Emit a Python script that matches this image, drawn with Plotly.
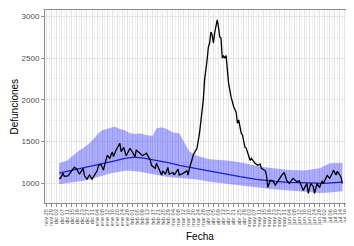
import plotly.graph_objects as go

# Observed daily deaths (black line)
OBS_DATES = [
    "2019-12-05", "2019-12-06", "2019-12-08", "2019-12-09", "2019-12-12", "2019-12-15",
    "2019-12-17", "2019-12-19", "2019-12-21", "2019-12-24", "2019-12-25", "2019-12-27",
    "2019-12-29", "2019-12-31", "2020-01-04", "2020-01-05", "2020-01-07", "2020-01-09",
    "2020-01-11", "2020-01-12", "2020-01-14", "2020-01-16", "2020-01-17", "2020-01-19",
    "2020-01-22", "2020-01-23", "2020-01-25", "2020-01-27", "2020-01-30", "2020-02-01",
    "2020-02-03", "2020-02-04", "2020-02-07", "2020-02-09", "2020-02-12", "2020-02-15",
    "2020-02-16", "2020-02-19", "2020-02-20", "2020-02-23", "2020-02-24", "2020-02-25",
    "2020-02-27", "2020-02-29", "2020-03-01", "2020-03-04", "2020-03-05", "2020-03-08",
    "2020-03-09", "2020-03-12", "2020-03-15", "2020-03-16", "2020-03-17", "2020-03-19",
    "2020-03-20", "2020-03-23", "2020-03-25", "2020-03-28", "2020-03-29", "2020-03-31",
    "2020-04-01", "2020-04-02", "2020-04-03", "2020-04-04", "2020-04-05", "2020-04-06",
    "2020-04-08", "2020-04-09", "2020-04-10", "2020-04-11", "2020-04-12", "2020-04-13",
    "2020-04-14", "2020-04-15", "2020-04-16", "2020-04-17", "2020-04-19", "2020-04-20",
    "2020-04-21", "2020-04-23", "2020-04-24", "2020-04-25", "2020-04-27", "2020-04-28",
    "2020-04-30", "2020-05-01", "2020-05-04", "2020-05-05", "2020-05-08", "2020-05-10",
    "2020-05-12", "2020-05-13", "2020-05-16", "2020-05-17", "2020-05-18", "2020-05-20",
    "2020-05-22", "2020-05-24", "2020-05-27", "2020-05-29", "2020-05-31", "2020-06-02",
    "2020-06-04", "2020-06-07", "2020-06-10", "2020-06-12", "2020-06-15", "2020-06-18",
    "2020-06-19", "2020-06-21", "2020-06-23", "2020-06-24", "2020-06-26", "2020-06-28",
    "2020-06-30", "2020-07-01", "2020-07-04", "2020-07-06", "2020-07-08", "2020-07-09",
    "2020-07-11", "2020-07-12", "2020-07-14", "2020-07-15", "2020-07-16",
]
OBS_VALUES = [
    1060, 1060, 1120, 1085, 1090, 1150,
    1195, 1170, 1110, 1180, 1090, 1050,
    1100, 1050, 1150, 1210, 1230, 1160,
    1276, 1336, 1300, 1376, 1320, 1400,
    1480, 1380, 1430, 1330, 1420, 1360,
    1320, 1400, 1350, 1330, 1360, 1280,
    1216, 1180, 1240, 1120, 1100, 1150,
    1110, 1190, 1110, 1130, 1100, 1170,
    1100, 1120, 1150, 1100, 1180, 1280,
    1340, 1420, 1600, 2000, 2236, 2476,
    2632, 2680, 2812, 2776, 2680, 2800,
    2956, 2872, 2752, 2740, 2500, 2524,
    2500, 2530, 2356, 2200, 2032, 1960,
    1920, 1850, 1720, 1760, 1600, 1580,
    1432, 1420, 1276, 1300, 1240, 1216,
    1230, 1180, 1150, 1096, 952, 1036,
    1030, 980, 1060, 1096, 1130, 1036,
    1000, 1060, 1020, 1030, 916, 1000,
    880, 1000, 960, 880, 1000, 950,
    1030, 1000, 1096, 1060, 1120, 1156,
    1100, 1144, 1100, 1070, 1000,
]

# Expected deaths (blue line)
EXP_DATES = [
    "2019-12-05", "2019-12-13", "2019-12-25", "2020-01-06", "2020-01-18", "2020-01-26",
    "2020-02-03", "2020-02-11", "2020-02-20", "2020-03-01", "2020-03-09", "2020-03-23",
    "2020-04-02", "2020-04-12", "2020-04-26", "2020-05-09", "2020-05-24", "2020-06-04",
    "2020-06-20", "2020-07-01", "2020-07-10", "2020-07-16",
]
EXP_VALUES = [
    1124, 1150, 1185, 1225, 1270, 1300,
    1315, 1300, 1276, 1245, 1216, 1180,
    1150, 1120, 1080, 1048, 1025, 1012,
    1005, 1000, 1010, 1015,
]

# Confidence band
BAND_DATES = [
    "2019-12-05", "2019-12-11", "2019-12-21", "2019-12-24", "2019-12-29", "2020-01-02",
    "2020-01-06", "2020-01-08", "2020-01-15", "2020-01-18", "2020-01-22", "2020-01-26",
    "2020-01-30", "2020-02-04", "2020-02-07", "2020-02-12", "2020-02-17", "2020-02-20",
    "2020-02-24", "2020-02-28", "2020-03-04", "2020-03-09", "2020-03-12", "2020-03-15",
    "2020-03-17", "2020-03-23", "2020-04-02", "2020-04-18", "2020-04-30", "2020-05-12",
    "2020-05-24", "2020-06-04", "2020-06-16", "2020-06-28", "2020-07-06", "2020-07-14",
    "2020-07-16",
]
BAND_UPPER = [
    1240, 1270, 1396, 1420, 1480, 1552,
    1612, 1636, 1672, 1680, 1650, 1636,
    1600, 1590, 1600, 1576, 1570, 1660,
    1672, 1650, 1610, 1600, 1516, 1436,
    1380, 1330, 1290, 1270, 1240, 1200,
    1180, 1160, 1155, 1180, 1240, 1250,
    1245,
]
BAND_LOWER = [
    990, 1000, 1020, 1030, 1045, 1060,
    1080, 1090, 1120, 1130, 1145, 1150,
    1150, 1145, 1140, 1125, 1110, 1100,
    1090, 1080, 1070, 1065, 1060, 1060,
    1055, 1045, 1020, 990, 965, 945,
    928, 916, 900, 885, 890, 900,
    905,
]

TICK_DATES = [
    "2019-11-25", "2019-11-29", "2019-12-03", "2019-12-07", "2019-12-11", "2019-12-15",
    "2019-12-19", "2019-12-23", "2019-12-27", "2019-12-31", "2020-01-04", "2020-01-08",
    "2020-01-12", "2020-01-16", "2020-01-20", "2020-01-24", "2020-01-28", "2020-02-01",
    "2020-02-05", "2020-02-09", "2020-02-13", "2020-02-17", "2020-02-21", "2020-02-25",
    "2020-02-29", "2020-03-04", "2020-03-08", "2020-03-12", "2020-03-16", "2020-03-20",
    "2020-03-24", "2020-03-28", "2020-04-01", "2020-04-05", "2020-04-09", "2020-04-13",
    "2020-04-17", "2020-04-21", "2020-04-25", "2020-04-29", "2020-05-03", "2020-05-07",
    "2020-05-11", "2020-05-15", "2020-05-19", "2020-05-23", "2020-05-27", "2020-05-31",
    "2020-06-04", "2020-06-08", "2020-06-12", "2020-06-16", "2020-06-20", "2020-06-24",
    "2020-06-28", "2020-07-02", "2020-07-06", "2020-07-10", "2020-07-14", "2020-07-18",
]
TICK_LABELS = [
    "nov 25", "nov 29", "dic 03", "dic 07", "dic 11", "dic 15",
    "dic 19", "dic 23", "dic 27", "dic 31", "ene 04", "ene 08",
    "ene 12", "ene 16", "ene 20", "ene 24", "ene 28", "feb 01",
    "feb 05", "feb 09", "feb 13", "feb 17", "feb 21", "feb 25",
    "feb 29", "mar 04", "mar 08", "mar 12", "mar 16", "mar 20",
    "mar 24", "mar 28", "abr 01", "abr 05", "abr 09", "abr 13",
    "abr 17", "abr 21", "abr 25", "abr 29", "may 03", "may 07",
    "may 11", "may 15", "may 19", "may 23", "may 27", "may 31",
    "jun 04", "jun 08", "jun 12", "jun 16", "jun 20", "jun 24",
    "jun 28", "jul 02", "jul 06", "jul 10", "jul 14", "jul 18",
]
Y_TICKS = [1000, 1500, 2000, 2500, 3000]

FONT = "Liberation Sans, Arial, sans-serif"
BORDER = "#8c8c8c"

fig = go.Figure()
fig.add_trace(go.Scatter(x=BAND_DATES, y=BAND_LOWER, mode="lines",
                         line=dict(width=0), showlegend=False, hoverinfo="skip"))
fig.add_trace(go.Scatter(x=BAND_DATES, y=BAND_UPPER, mode="lines",
                         line=dict(width=0), fill="tonexty",
                         fillcolor="rgba(40,40,255,0.38)", showlegend=False))
fig.add_trace(go.Scatter(x=EXP_DATES, y=EXP_VALUES, mode="lines",
                         line=dict(color="rgb(30,30,200)", width=1.3), showlegend=False))
fig.add_trace(go.Scatter(x=OBS_DATES, y=OBS_VALUES, mode="lines",
                         line=dict(color="black", width=1.3), showlegend=False))

# The page body has an 8px default margin; the figure is sized to fit the window.
fig.update_layout(
    width=346, height=238,
    margin=dict(l=37, r=0, t=2, b=43),
    paper_bgcolor="white", plot_bgcolor="white",
    font=dict(family=FONT, color="#4d4d4d"),
    showlegend=False,
    annotations=[
        dict(text="Defunciones", xref="paper", yref="paper", x=0, y=0.5,
             xshift=-31, textangle=-90, showarrow=False,
             font=dict(size=10, color="black", family=FONT),
             xanchor="center", yanchor="middle"),
        dict(text="Fecha", xref="paper", yref="paper", x=0.5, y=0,
             yshift=-33, showarrow=False,
             font=dict(size=10, color="black", family=FONT),
             xanchor="center", yanchor="middle"),
    ],
)
fig.update_xaxes(
    type="date",
    range=["2019-11-23 19:00", "2020-07-25 05:00"],
    tickmode="array", tickvals=TICK_DATES, ticktext=TICK_LABELS,
    tickangle=-90, tickfont=dict(size=5.6, color="#4d4d4d", family=FONT),
    ticks="outside", ticklen=3, tickcolor=BORDER, tickwidth=1,
    showgrid=True, gridcolor="#e4e4e4", gridwidth=1,
    minor=dict(showgrid=True, gridcolor="#f1f1f1", gridwidth=1,
               tick0="2019-11-27", dtick=4 * 86400000),
    showline=True, linecolor=BORDER, linewidth=1, mirror=True,
    zeroline=False, automargin=False,
)
fig.update_yaxes(
    range=[765, 3075],
    tickmode="array", tickvals=Y_TICKS,
    tickfont=dict(size=8, color="#4d4d4d", family=FONT),
    ticks="outside", ticklen=3, tickcolor=BORDER, tickwidth=1,
    showgrid=True, gridcolor="#e4e4e4", gridwidth=1,
    minor=dict(showgrid=True, gridcolor="#f1f1f1", gridwidth=1,
               tick0=1250, dtick=500),
    showline=True, linecolor=BORDER, linewidth=1, mirror=False,
    zeroline=False, automargin=False,
)

fig.write_html("out.html")
